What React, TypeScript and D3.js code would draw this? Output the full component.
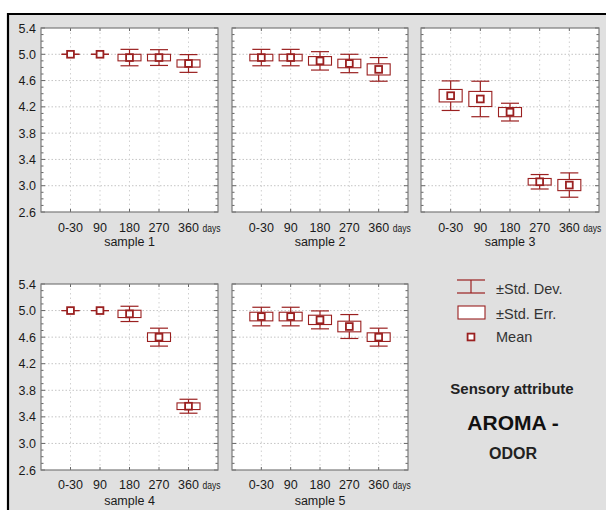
import React from "react";
import * as d3 from "d3";

const categories = ["0-30", "90", "180", "270", "360"];
const yTicks = [2.6, 3.0, 3.4, 3.8, 4.2, 4.6, 5.0, 5.4];
const sampleNames = ["sample 1", "sample 2", "sample 3", "sample 4", "sample 5"];

const means1 = [5.0, 5.0, 4.95, 4.95, 4.86];
const sd1 = [0, 0, 0.125, 0.12, 0.135];
const se1 = [0, 0, 0.05, 0.05, 0.055];

const means2 = [4.95, 4.95, 4.9, 4.86, 4.77];
const sd2 = [0.125, 0.125, 0.14, 0.14, 0.18];
const se2 = [0.05, 0.05, 0.065, 0.065, 0.085];

const means3 = [4.37, 4.32, 4.12, 3.06, 3.01];
const sd3 = [0.225, 0.27, 0.135, 0.11, 0.185];
const se3 = [0.095, 0.115, 0.07, 0.05, 0.085];

const means4 = [5.0, 5.0, 4.95, 4.6, 3.56];
const sd4 = [0, 0, 0.115, 0.135, 0.105];
const se4 = [0, 0, 0.055, 0.065, 0.05];

const means5 = [4.91, 4.91, 4.86, 4.76, 4.6];
const sd5 = [0.14, 0.14, 0.135, 0.18, 0.135];
const se5 = [0.065, 0.065, 0.07, 0.08, 0.065];

const legendLabels = ["±Std. Dev.", "±Std. Err.", "Mean"];
const titleLines = ["Sensory attribute", "AROMA -", "ODOR"];

const RED = "#9a2020";
const FONT = "'Liberation Sans', Arial, sans-serif";

type PanelProps = {
  left: number; right: number; top: number; bottom: number;
  means: number[]; sd: number[]; se: number[]; name: string;
  labelY: number; nameY: number;
};

function Panel({ left, right, top, bottom, means, sd, se, name, labelY, nameY }: PanelProps) {
  const x = d3.scaleLinear().domain([0, categories.length + 1]).range([left, right]);
  const y = d3.scaleLinear().domain([2.6, 5.4]).range([bottom, top]);
  const minor = d3.range(26, 55).map((v) => v / 10);
  const boxW = 23;
  const capW = 18;
  return (
    <g>
      <rect x={left} y={top} width={right - left} height={bottom - top} fill="#fff" />
      {yTicks.slice(1, -1).map((t) => (
        <line key={"gy" + t} x1={left} x2={right} y1={y(t)} y2={y(t)} stroke="#c4c4c4" strokeWidth={1} strokeDasharray="1.5,2" />
      ))}
      {categories.map((c, i) => (
        <line key={"gx" + c} x1={x(i + 1)} x2={x(i + 1)} y1={top} y2={bottom} stroke="#d0d0d0" strokeWidth={1} strokeDasharray="1.5,3" />
      ))}
      {minor.map((t) => {
        const major = Math.abs(Math.round(t * 10) % 4 - 2) === 0;
        const len = major ? 4 : 2.5;
        return (
          <g key={"mt" + t}>
            <line x1={left} x2={left + len} y1={y(t)} y2={y(t)} stroke="#666" strokeWidth={1} />
            <line x1={right} x2={right - len} y1={y(t)} y2={y(t)} stroke="#666" strokeWidth={1} />
          </g>
        );
      })}
      {categories.map((c, i) => (
        <g key={"bt" + c}>
          <line x1={x(i + 1)} x2={x(i + 1)} y1={bottom} y2={bottom - 3} stroke="#666" />
          <line x1={x(i + 1)} x2={x(i + 1)} y1={top} y2={top + 3} stroke="#666" />
        </g>
      ))}
      <rect x={left} y={top} width={right - left} height={bottom - top} fill="none" stroke="#7a7a7a" strokeWidth={1.2} />
      {means.map((m, i) => {
        const cx = x(i + 1);
        const yTop = y(m + sd[i]);
        const yBot = y(m - sd[i]);
        const bTop = y(m + se[i]);
        const bBot = y(m - se[i]);
        return (
          <g key={"e" + i} stroke={RED} fill="none">
            <line x1={cx} x2={cx} y1={yTop} y2={yBot} strokeWidth={1.2} />
            <line x1={cx - capW / 2} x2={cx + capW / 2} y1={yTop} y2={yTop} strokeWidth={1.2} />
            <line x1={cx - capW / 2} x2={cx + capW / 2} y1={yBot} y2={yBot} strokeWidth={1.2} />
            <rect x={cx - boxW / 2} y={bTop} width={boxW} height={Math.max(0, bBot - bTop)} fill="#fff" strokeWidth={1.1} />
            <rect x={cx - 3.4} y={y(m) - 3.4} width={6.8} height={6.8} fill="#fff" strokeWidth={1.8} />
          </g>
        );
      })}
      {categories.map((c, i) => (
        <text key={"xl" + c} x={x(i + 1)} y={labelY} textAnchor="middle" fontSize={12.5} fill="#1a1a1a" fontFamily={FONT}>{c}</text>
      ))}
      <text x={x(categories.length) + 14} y={labelY} textAnchor="start" fontSize={11} fill="#1a1a1a" fontFamily={FONT} textLength={18} lengthAdjust="spacingAndGlyphs">days</text>
      <text x={(left + right) / 2} y={nameY} textAnchor="middle" fontSize={12.5} fill="#1a1a1a" fontFamily={FONT}>{name}</text>
    </g>
  );
}

function YAxis({ top, bottom, xr }: { top: number; bottom: number; xr: number }) {
  const y = d3.scaleLinear().domain([2.6, 5.4]).range([bottom, top]);
  return (
    <g>
      {yTicks.map((t) => (
        <text key={t} x={xr} y={y(t) + 4.5} textAnchor="end" fontSize={12.5} fill="#1a1a1a" fontFamily={FONT}>{t.toFixed(1)}</text>
      ))}
    </g>
  );
}

export default function App() {
  const W = 606, H = 510;
  const rowTop = { top: 28, bottom: 212, labelY: 232, nameY: 246 };
  const rowBot = { top: 284, bottom: 470, labelY: 489, nameY: 505 };
  const cols = [[41, 218], [232, 408], [421, 599]];
  return (
    <svg width={W} height={H} style={{ position: "absolute", left: 0, top: 0, display: "block" }}>
      <rect x={0} y={0} width={W} height={H} fill="#fff" />
      <rect x={8} y={14} width={W - 8} height={H - 14} fill="#e0e0e0" />
      <line x1={7} x2={W} y1={14} y2={14} stroke="#000" strokeWidth={2.2} />
      <line x1={8} x2={8} y1={13} y2={H} stroke="#000" strokeWidth={2.2} />

      <YAxis top={rowTop.top} bottom={rowTop.bottom} xr={36} />
      <YAxis top={rowBot.top} bottom={rowBot.bottom} xr={36} />

      <Panel left={cols[0][0]} right={cols[0][1]} {...rowTop} means={means1} sd={sd1} se={se1} name={sampleNames[0]} />
      <Panel left={cols[1][0]} right={cols[1][1]} {...rowTop} means={means2} sd={sd2} se={se2} name={sampleNames[1]} />
      <Panel left={cols[2][0]} right={cols[2][1]} {...rowTop} means={means3} sd={sd3} se={se3} name={sampleNames[2]} />
      <Panel left={cols[0][0]} right={cols[0][1]} {...rowBot} means={means4} sd={sd4} se={se4} name={sampleNames[3]} />
      <Panel left={cols[1][0]} right={cols[1][1]} {...rowBot} means={means5} sd={sd5} se={se5} name={sampleNames[4]} />

      <g stroke={RED} fill="none">
        <line x1={457} x2={485} y1={280} y2={280} strokeWidth={1.2} />
        <line x1={457} x2={485} y1={293} y2={293} strokeWidth={1.2} />
        <line x1={471} x2={471} y1={280} y2={293} strokeWidth={1.2} />
        <rect x={458} y={306} width={27} height={13} fill="#fff" strokeWidth={1.1} />
        <rect x={467.6} y={333.6} width={6.8} height={6.8} fill="#fff" strokeWidth={1.8} />
      </g>
      {legendLabels.map((l, i) => (
        <text key={l} x={496} y={[294, 319, 342][i]} fontSize={14.5} fill="#333" fontFamily={FONT}>{l}</text>
      ))}
      <text x={512} y={394} textAnchor="middle" fontSize={15} fontWeight="bold" fill="#222" fontFamily={FONT}>{titleLines[0]}</text>
      <text x={513} y={430} textAnchor="middle" fontSize={21} fontWeight="bold" fill="#111" fontFamily={FONT}>{titleLines[1]}</text>
      <text x={513} y={459} textAnchor="middle" fontSize={16} fontWeight="bold" fill="#222" fontFamily={FONT}>{titleLines[2]}</text>
    </svg>
  );
}
